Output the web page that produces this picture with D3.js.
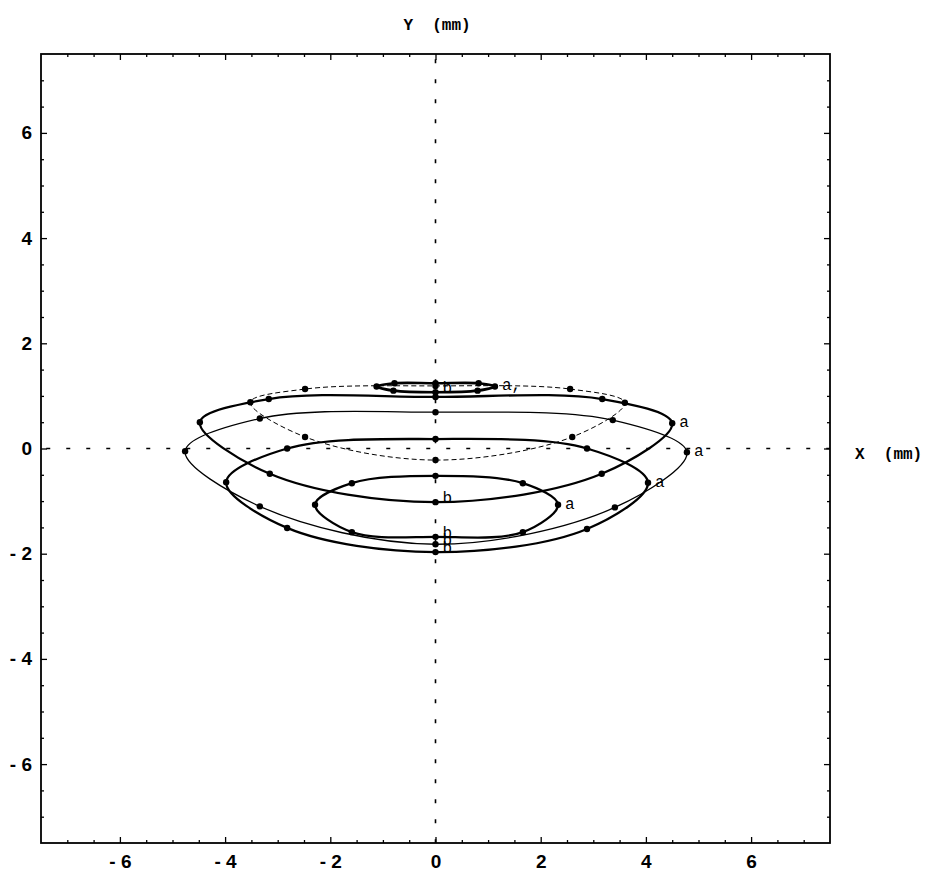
<!DOCTYPE html>
<html>
<head>
<meta charset="utf-8">
<script src="https://cdn.jsdelivr.net/npm/d3@7"></script>
<style>
    body { margin: 0; background: #fff; }
    .tick text { font-family: "Liberation Sans", Arial, sans-serif; font-weight: bold; font-size: 19px; }
    .axis-title { font-family: "Liberation Mono", "DejaVu Sans Mono", monospace; font-weight: bold; font-size: 16px; }
    .pt-label { font-family: "Liberation Mono", "DejaVu Sans Mono", monospace; font-size: 16px; }
</style>
</head>
<body>
<div id="orbitChart"></div>
<script>
// Dots on each loop (mm), starting at the top and going clockwise
const loopSmall  = [[0, 1.24], [0.82, 1.24], [1.13, 1.18], [0.80, 1.10], [0, 1.07], [-0.80, 1.10], [-1.12, 1.18], [-0.78, 1.24]];
const loopUpper  = [[0, 0.98], [3.17, 0.94], [4.50, 0.48], [3.16, -0.48], [0, -1.02], [-3.15, -0.48], [-4.48, 0.50], [-3.17, 0.94]];
const loopLower  = [[0, 0.18], [2.88, 0.00], [4.04, -0.65], [2.88, -1.53], [0, -1.97], [-2.82, -1.51], [-3.98, -0.64], [-2.82, 0.00]];
const loopThin   = [[0, 0.69], [3.37, 0.54], [4.78, -0.07], [3.41, -1.12], [0, -1.82], [-3.34, -1.10], [-4.76, -0.05], [-3.34, 0.57]];
const loopInner  = [[0, -0.52], [1.66, -0.66], [2.33, -1.07], [1.66, -1.59], [0, -1.68], [-1.59, -1.59], [-2.29, -1.07], [-1.59, -0.66]];
const loopDashed = [[0, 1.19], [2.56, 1.13], [3.60, 0.87], [2.60, 0.22], [0, -0.22], [-2.48, 0.22], [-3.52, 0.88], [-2.48, 1.13]];

// Tick values
const majorTicks = [-6, -4, -2, 0, 2, 4, 6];
const minorTicks = d3.range(-7, 7.01, 0.5).filter(v => v % 2 !== 0);

// Point labels: text, loop, index of the dot it sits next to
const pointLabels = [
    ["a,", "small", 2], ["b", "small", 4],
    ["a", "upper", 2], ["b", "upper", 4],
    ["a", "lower", 2], ["b", "lower", 4],
    ["a", "thin", 2], ["b", "thin", 4],
    ["a", "inner", 2], ["b", "inner", 4]
];

const loops = [
    { key: "dashed", pts: loopDashed, width: 1, dash: "5,3" },
    { key: "thin", pts: loopThin, width: 1.3, dash: null },
    { key: "upper", pts: loopUpper, width: 2.3, dash: null },
    { key: "lower", pts: loopLower, width: 2.3, dash: null },
    { key: "inner", pts: loopInner, width: 2.3, dash: null },
    { key: "small", pts: loopSmall, width: 2.6, dash: null }
];

const frame = { left: 41, right: 830, top: 54, bottom: 843 };

function drawChart() {

    const svg = d3.select("#orbitChart")
        .append("svg")
        .attr("width", 932)
        .attr("height", 874);

    //Scales
    const xScale = d3.scaleLinear().domain([-7.5, 7.5]).range([frame.left, frame.right]);
    const yScale = d3.scaleLinear().domain([-7.5, 7.5]).range([frame.bottom, frame.top]);

    const fmt = d => d < 0 ? "- " + (-d) : String(d);

    //Dotted axes through the origin
    svg.append("line")
        .attr("x1", xScale(-7.4)).attr("x2", xScale(7.5))
        .attr("y1", yScale(0)).attr("y2", yScale(0))
        .attr("stroke", "#000").attr("stroke-width", 1.6)
        .attr("stroke-dasharray", "4,16");
    svg.append("line")
        .attr("x1", xScale(0)).attr("x2", xScale(0))
        .attr("y1", yScale(7.4)).attr("y2", yScale(-7.5))
        .attr("stroke", "#000").attr("stroke-width", 1.6)
        .attr("stroke-dasharray", "4,16");

    //Loops
    const line = d3.line()
        .x(d => xScale(d[0]))
        .y(d => yScale(d[1]))
        .curve(d3.curveCatmullRomClosed.alpha(0.5));

    svg.selectAll(".loop")
        .data(loops)
        .enter()
        .append("path")
        .attr("class", "loop")
        .attr("d", d => line(d.pts))
        .attr("fill", "none")
        .attr("stroke", "#000")
        .attr("stroke-width", d => d.width)
        .attr("stroke-dasharray", d => d.dash);

    //Dots
    const allDots = loops.flatMap(l => l.pts);
    svg.selectAll(".dot")
        .data(allDots)
        .enter()
        .append("circle")
        .attr("class", "dot")
        .attr("cx", d => xScale(d[0]))
        .attr("cy", d => yScale(d[1]))
        .attr("r", 3.2)
        .attr("fill", "#000");

    //Point labels
    const loopByKey = new Map(loops.map(l => [l.key, l.pts]));
    svg.selectAll(".pt-label")
        .data(pointLabels)
        .enter()
        .append("text")
        .attr("class", "pt-label")
        .attr("x", d => xScale(loopByKey.get(d[1])[d[2]][0]) + 7)
        .attr("y", d => yScale(loopByKey.get(d[1])[d[2]][1]) + (d[0] === "b" ? 1 : 4))
        .text(d => d[0]);

    //Axes with inward ticks
    svg.append("g")
        .attr("transform", `translate(0,${frame.bottom})`)
        .call(d3.axisBottom(xScale).tickValues(majorTicks).tickSize(-6).tickPadding(12).tickFormat(fmt));
    svg.append("g")
        .attr("transform", `translate(0,${frame.bottom})`)
        .call(d3.axisBottom(xScale).tickValues(minorTicks).tickSize(-3).tickFormat(""));
    svg.append("g")
        .attr("transform", `translate(0,${frame.top})`)
        .call(d3.axisTop(xScale).tickValues(majorTicks).tickSize(-6).tickFormat(""));
    svg.append("g")
        .attr("transform", `translate(0,${frame.top})`)
        .call(d3.axisTop(xScale).tickValues(minorTicks).tickSize(-3).tickFormat(""));
    svg.append("g")
        .attr("transform", `translate(${frame.left},0)`)
        .call(d3.axisLeft(yScale).tickValues(majorTicks).tickSize(-6).tickPadding(9).tickFormat(fmt));
    svg.append("g")
        .attr("transform", `translate(${frame.left},0)`)
        .call(d3.axisLeft(yScale).tickValues(minorTicks).tickSize(-3).tickFormat(""));
    svg.append("g")
        .attr("transform", `translate(${frame.right},0)`)
        .call(d3.axisRight(yScale).tickValues(majorTicks).tickSize(-6).tickFormat(""));
    svg.append("g")
        .attr("transform", `translate(${frame.right},0)`)
        .call(d3.axisRight(yScale).tickValues(minorTicks).tickSize(-3).tickFormat(""));

    svg.selectAll(".domain").remove();
    svg.selectAll(".tick line").attr("stroke-width", 1.3);

    //Frame
    svg.append("rect")
        .attr("x", frame.left).attr("y", frame.top)
        .attr("width", frame.right - frame.left)
        .attr("height", frame.bottom - frame.top)
        .attr("fill", "none")
        .attr("stroke", "#000")
        .attr("stroke-width", 1.8);

    //Axis titles
    svg.append("text")
        .attr("class", "axis-title")
        .attr("x", 437).attr("y", 30)
        .attr("text-anchor", "middle")
        .attr("xml:space", "preserve")
        .text("Y  (mm)");
    svg.append("text")
        .attr("class", "axis-title")
        .attr("x", 855).attr("y", 459)
        .attr("xml:space", "preserve")
        .text("X  (mm)");
}

drawChart();
</script>
</body>
</html>
